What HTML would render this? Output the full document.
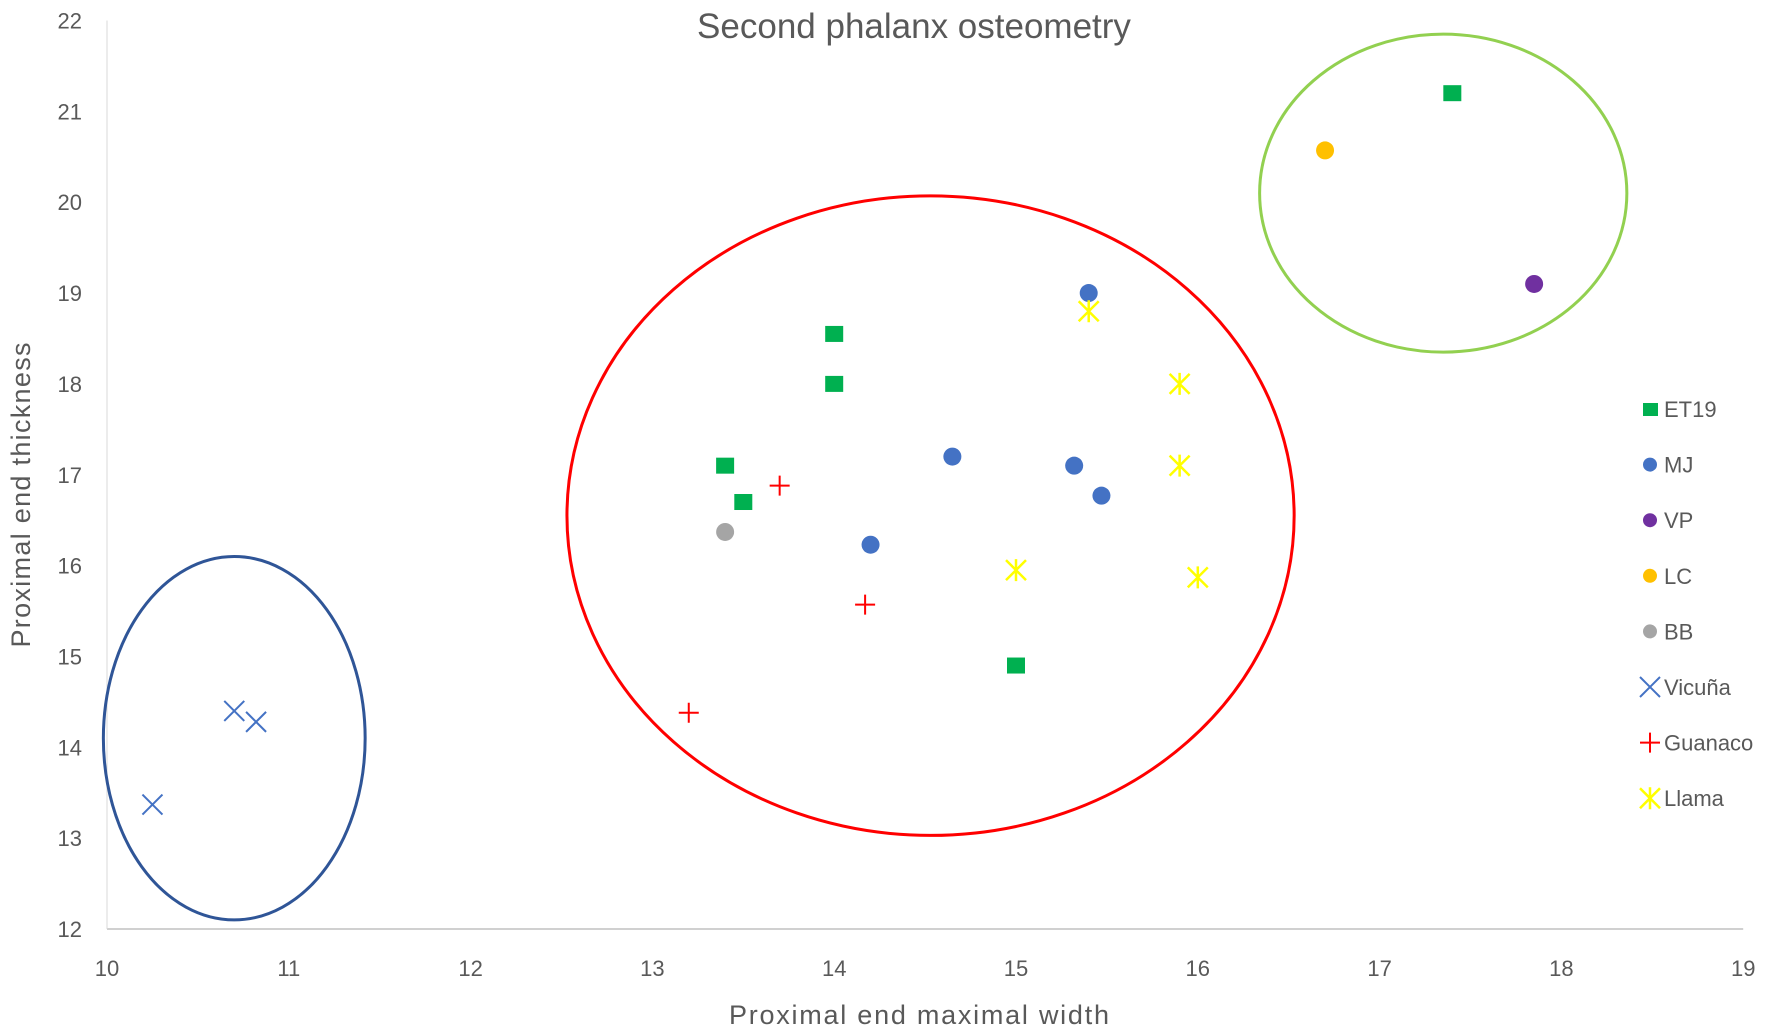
<!DOCTYPE html>
<html><head><meta charset="utf-8"><style>
html,body{margin:0;padding:0;background:#fff;}
svg{display:block;font-family:"Liberation Sans",sans-serif;}
</style></head><body>
<svg id="chart" width="1772" height="1031" viewBox="0 0 1772 1031" xmlns="http://www.w3.org/2000/svg">
<text x="914" y="38" text-anchor="middle" font-size="35" fill="#595959">Second phalanx osteometry</text>
<text x="919" y="1024" text-anchor="middle" font-size="27" fill="#595959" textLength="380">Proximal end maximal width</text>
<text transform="translate(30,495) rotate(-90)" text-anchor="middle" font-size="27" fill="#595959" textLength="305">Proximal end thickness</text>
<g id="axes"></g>
<g id="ellipses"></g>
<g id="marks"></g>
<g id="legend"></g>
</svg>
<script>
const xTicks=[10,11,12,13,14,15,16,17,18,19];
const yTicks=[12,13,14,15,16,17,18,19,20,21,22];
const et19X=[17.4,14,14,13.4,13.5,15], et19Y=[21.2,18.55,18,17.1,16.7,14.9];
const mjX=[15.4,14.65,15.32,15.47,14.2], mjY=[19,17.2,17.1,16.77,16.23];
const vpX=[17.85], vpY=[19.1];
const lcX=[16.7], lcY=[20.57];
const bbX=[13.4], bbY=[16.37];
const vicX=[10.7,10.82,10.25], vicY=[14.4,14.28,13.37];
const guaX=[13.7,14.17,13.2], guaY=[16.88,15.57,14.38];
const llaX=[15.4,15.9,15.9,15,16], llaY=[18.8,18,17.1,15.95,15.87];
const seriesNames=["ET19","MJ","VP","LC","BB","Vicuña","Guanaco","Llama"];
const ellCx=[10.7,14.53,17.35], ellCy=[14.1,16.55,20.1], ellRx=[0.72,2.0,1.01], ellRy=[2.0,3.52,1.75];
const ellColors=["#2f5597","#ff0000","#92d050"];

const NS="http://www.w3.org/2000/svg";
const X0=107,XS=181.8,Y0=929,YS=90.85;
const sx=v=>X0+(v-10)*XS, sy=v=>Y0-(v-12)*YS;
function mk(tag,attrs,parent){const e=document.createElementNS(NS,tag);for(const k in attrs)e.setAttribute(k,attrs[k]);parent.appendChild(e);return e;}
const axes=document.getElementById('axes');
let l=mk('line',{x1:sx(10),y1:sy(12),x2:sx(19),y2:sy(12),stroke:'#d0d0d0','stroke-width':2},axes);


l=mk('line',{x1:sx(10),y1:sy(12),x2:sx(10),y2:sy(22),stroke:'#d9d9d9','stroke-width':1},axes);


xTicks.forEach(v=>{const t=mk('text',{x:sx(v),y:976,'text-anchor':'middle','font-size':22,fill:'#595959'},axes);t.textContent=v;

});
yTicks.forEach(v=>{const t=mk('text',{x:82,y:sy(v)+8,'text-anchor':'end','font-size':22,fill:'#595959'},axes);t.textContent=v;

});
const eg=document.getElementById('ellipses');
ellCx.forEach((c,i)=>{const e=mk('ellipse',{cx:sx(c),cy:sy(ellCy[i]),rx:ellRx[i]*XS,ry:ellRy[i]*YS,fill:'none',stroke:ellColors[i],'stroke-width':3},eg);

});
function marker(type,color,x,y,parent){
 let g=mk('g',{},parent);
 if(type==='sq')mk('rect',{x:x-9,y:y-8,width:18,height:16,fill:color},g);
 else if(type==='ci')mk('circle',{cx:x,cy:y,r:9,fill:color},g);
 else if(type==='x'){mk('path',{d:`M${x-10} ${y-10}L${x+10} ${y+10}M${x-10} ${y+10}L${x+10} ${y-10}`,stroke:color,'stroke-width':2},g);}
 else if(type==='plus'){mk('path',{d:`M${x-10} ${y}L${x+10} ${y}M${x} ${y-10}L${x} ${y+10}`,stroke:color,'stroke-width':2},g);}
 else if(type==='star'){mk('path',{d:`M${x-10} ${y-10}L${x+10} ${y+10}M${x-10} ${y+10}L${x+10} ${y-10}M${x} ${y-11}L${x} ${y+11}`,stroke:color,'stroke-width':2.5},g);}
 return g;
}
const series=[[et19X,et19Y,'sq','#00b050'],[mjX,mjY,'ci','#4472c4'],[vpX,vpY,'ci','#7030a0'],[lcX,lcY,'ci','#ffc000'],[bbX,bbY,'ci','#a5a5a5'],[vicX,vicY,'x','#4472c4'],[guaX,guaY,'plus','#ff0000'],[llaX,llaY,'star','#ffff00']];
const mg=document.getElementById('marks'),lg=document.getElementById('legend');
series.forEach((s,i)=>{
 s[0].forEach((xv,j)=>{const m=marker(s[2],s[3],sx(xv),sy(s[1][j]),mg);
 
 });
 const ly=409+i*55.6;
 const le=mk('g',{},lg);
 
 
 const lm=marker(s[2],s[3],1650,ly,le);
 if(s[2]==='ci'){lm.firstChild.setAttribute('r',7);}
 if(s[2]==='sq'){lm.firstChild.setAttribute('width',15);lm.firstChild.setAttribute('height',13);lm.firstChild.setAttribute('x',1643);lm.firstChild.setAttribute('y',ly-6);}
 const t=mk('text',{x:1664,y:ly+8,'font-size':22,fill:'#595959'},le);t.textContent=seriesNames[i];
});
</script>
</body></html>
